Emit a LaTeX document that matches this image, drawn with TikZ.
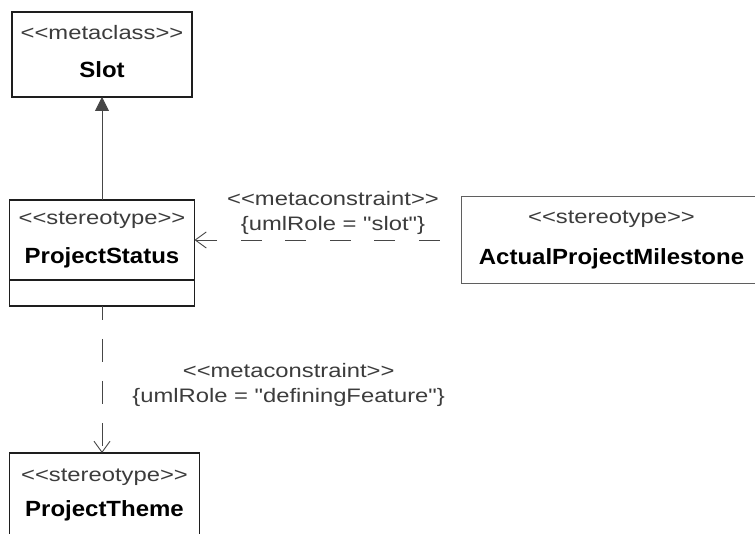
\documentclass[tikz,border=0pt]{standalone}
\usepackage{fontspec}
\usepackage{xcolor}
\usepackage{tikz}
\usetikzlibrary{arrows.meta, positioning}
\newfontfamily\stereofont{Liberation Sans}[FakeStretch=1.22]
\newfontfamily\namefont{Liberation Sans}[FakeStretch=1.09]
\definecolor{boxline}{RGB}{30, 30, 30}
\definecolor{stereogray}{RGB}{60, 60, 60}
\definecolor{linkgray}{RGB}{70, 70, 70}
\definecolor{milestoneline}{RGB}{95, 95, 95}
\newcommand{\stereo}[1]{{\stereofont\fontsize{19.5}{24}\selectfont\textcolor{stereogray}{<<#1>>}}}
\newcommand{\umlname}[1]{{\namefont\bfseries\fontsize{22}{24}\selectfont #1}}

\begin{document}
\begin{tikzpicture}[x=1pt, y=-1pt,
    umlbox/.style={draw=boxline, line width=1.4pt, fill=white, align=center,
                   inner sep=0pt, outer sep=0pt, font=\fontsize{20}{24}\selectfont},
    realize/.style={draw=linkgray, line width=0.9pt,
                    -{Straight Barb[length=11pt, width=16pt]}},
    generalize/.style={draw=linkgray, line width=0.9pt,
                       -{Triangle[length=14pt, width=14pt, fill=linkgray]}},
    constraint/.style={font=\stereofont\fontsize{19.5}{25}\selectfont,
                       text=stereogray, align=center, inner sep=0pt}
]
    \clip (0,0) rectangle (755,534);
    \fill[white] (0,0) rectangle (755,534);

    \node[umlbox, minimum width=180, minimum height=85, text depth=7pt] (slot) at (102,54.5) {
        \stereo{metaclass}\\[14pt]
        \umlname{Slot}
    };
    \node[umlbox, minimum width=185, minimum height=80, below=103pt of slot] (status) {
        \stereo{stereotype}\\[15pt]
        \umlname{ProjectStatus}
    };
    \node[umlbox, minimum width=185, minimum height=26, below=0pt of status] (statusattr) {};
    \node[umlbox, draw=milestoneline, line width=1.2pt, minimum width=300,
          minimum height=87, right=267pt of status] (milestone) {
        \stereo{stereotype}\\[17pt]
        \umlname{ActualProjectMilestone}
    };
    \node[umlbox, minimum width=190, minimum height=110,
          below=147pt of statusattr.south west, anchor=north west] (theme) {};
    \node[below=16pt of theme.north, align=center, inner sep=0pt,
          font=\fontsize{20}{24}\selectfont] (themetext) {
        \stereo{stereotype}\\[11pt]
        \umlname{ProjectTheme}
    };

    \draw[generalize] (status.north) -- (status.north |- slot.south);
    \draw[realize, dash pattern=on 21pt off 23.5pt, dash phase=22.5pt]
        (milestone.west) -- (milestone.west -| status.east)
        node[midway, above=5pt, xshift=5pt, constraint]
        {<<metaconstraint>>\\\{umlRole = "slot"\}};
    \draw[realize, dash pattern=on 23pt off 19pt, dash phase=9pt]
        (statusattr.south) -- (statusattr.south |- theme.north)
        node[midway, right=30pt, yshift=-5pt, constraint]
        {<<metaconstraint>>\\\{umlRole = "definingFeature"\}};
\end{tikzpicture}
\end{document}
